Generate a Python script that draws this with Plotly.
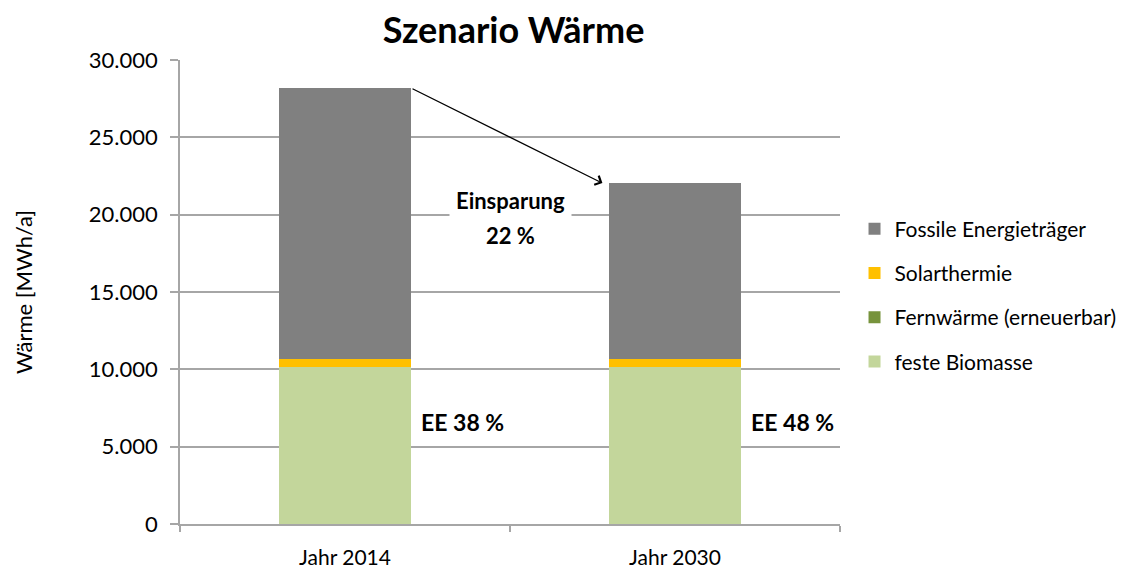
import plotly.graph_objects as go

categories = ["Jahr 2014", "Jahr 2030"]
biomasse = [10150, 10150]
fernwaerme = [0, 0]
solar = [520, 520]
fossil = [17520, 11370]
ee_labels = ["EE 38 %", "EE 48 %"]
title = "Szenario Wärme"

FONT = "Lato"
fig = go.Figure()
series = [
    ("feste Biomasse", biomasse, "#C3D69B", 4),
    ("Fernwärme (erneuerbar)", fernwaerme, "#77933C", 3),
    ("Solarthermie", solar, "#FFC000", 2),
    ("Fossile Energieträger", fossil, "#808080", 1),
]
for name, vals, col, rank in series:
    fig.add_trace(go.Bar(x=categories, y=vals, name=name, marker_color=col,
                         marker_line_width=0, legendgroup=name, legendrank=rank))

totals = [sum(v) for v in zip(biomasse, fernwaerme, solar, fossil)]

# arrow from top of bar 2014 to top of bar 2030
fig.add_annotation(x=0.78, y=totals[1], ax=0.2, ay=totals[0], xref="x", yref="y",
                   axref="x", ayref="y", showarrow=True, arrowhead=4, arrowsize=1.5,
                   arrowwidth=1.3, arrowcolor="black", text="")
fig.add_annotation(x=0.5, y=20900, xref="x", yref="y", showarrow=False,
                   text="<b>Einsparung</b>", bgcolor="white",
                   font=dict(family=FONT, size=22, color="black"), borderpad=6)
fig.add_annotation(x=0.5, y=18650, xref="x", yref="y", showarrow=False,
                   text="<b>22 %</b>",
                   font=dict(family=FONT, size=22, color="black"))
for i, t in enumerate(ee_labels):
    fig.add_annotation(x=i + 0.225, y=6600, xref="x", yref="y", showarrow=False,
                       xanchor="left", text=f"<b>{t}</b>",
                       font=dict(family=FONT, size=23, color="black"))

fig.update_layout(
    barmode="stack", bargap=0.6,
    width=1131, height=564,
    margin=dict(l=172, r=299, t=52, b=48),
    paper_bgcolor="white", plot_bgcolor="white",
    separators=",.",
    font=dict(family=FONT, size=21, color="black"),
    title=dict(text=f"<b>{title}</b>", x=0.447, xanchor="center", y=0.96, yanchor="middle",
               font=dict(family=FONT, size=36, color="black")),
    legend=dict(x=0.022, y=0.68, xanchor="left", yanchor="top",
                traceorder="grouped", tracegroupgap=14,
                font=dict(family=FONT, size=21, color="black")),
    showlegend=True,
)
fig.update_layout(legend_x=1.022)
fig.update_yaxes(range=[0, 30000], dtick=5000, tickformat=",.0f",
                 showgrid=True, gridcolor="#A6A6A6", gridwidth=1.5,
                 showline=True, linecolor="#A6A6A6", linewidth=1.5,
                 ticks="outside", ticklen=8, tickcolor="#A6A6A6", tickwidth=1.5,
                 ticklabelstandoff=8, zeroline=False, tickfont=dict(size=22),
                 automargin=False,
                 title=dict(text="Wärme [MWh/a]", font=dict(family=FONT, size=22), standoff=50))
fig.update_xaxes(range=[-0.5, 1.5], tickson="boundaries", ticks="outside", ticklen=6,
                 tickcolor="#A6A6A6", tickwidth=1.5, showline=True, linecolor="#A6A6A6",
                 linewidth=1.5, ticklabelstandoff=14, tickfont=dict(size=21),
                 automargin=False)

fig.write_html("out.html")
